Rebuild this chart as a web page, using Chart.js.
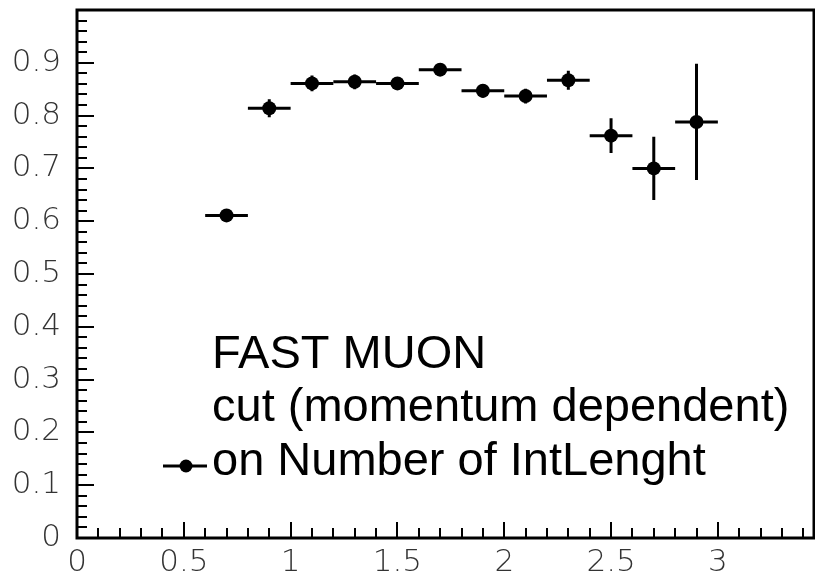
<!DOCTYPE html>
<html><head><meta charset="utf-8">
<script src="https://cdn.jsdelivr.net/npm/chart.js@4/dist/chart.umd.min.js"></script>
<style>html,body{margin:0;padding:0;background:#fff;}#wrap{width:815px;height:581px;}</style>
</head><body><div id="wrap"><canvas id="c" width="815" height="581"></canvas></div>
<script>
const binCenters    = [0.7, 0.9, 1.1, 1.3, 1.5, 1.7, 1.9, 2.1, 2.3, 2.5, 2.7, 2.9];
const binHalfWidths = [0.1, 0.1, 0.1, 0.1, 0.1, 0.1, 0.1, 0.1, 0.1, 0.1, 0.1, 0.1];
const efficiency    = [0.611, 0.814, 0.861, 0.864, 0.861, 0.887, 0.847, 0.837, 0.867, 0.762, 0.700, 0.788];
const efficiencyErr = [0.012, 0.017, 0.015, 0.014, 0.012, 0.012, 0.013, 0.014, 0.018, 0.033, 0.060, 0.110];
const xTickValues = [0, 0.5, 1, 1.5, 2, 2.5, 3];
const xTickLabels = ['0', '0.5', '1', '1.5', '2', '2.5', '3'];
const yTickValues = [0, 0.1, 0.2, 0.3, 0.4, 0.5, 0.6, 0.7, 0.8, 0.9];
const yTickLabels = ['0', '0.1', '0.2', '0.3', '0.4', '0.5', '0.6', '0.7', '0.8', '0.9'];
const legendLines = ['FAST MUON', 'cut (momentum dependent)', 'on Number of IntLenght'];

const points = binCenters.map((x, i) => ({x: x, y: efficiency[i]}));
const tickFont = {family: "'DejaVu Sans'", size: 31, weight: 200};

const rootStyle = {
  id: 'rootStyle',
  beforeDatasetsDraw(chart) {
    const ctx = chart.ctx, xs = chart.scales.x, ys = chart.scales.y;
    ctx.save();
    ctx.strokeStyle = '#000';
    ctx.lineWidth = 3;
    ctx.lineCap = 'butt';
    binCenters.forEach((x, i) => {
      const px = xs.getPixelForValue(x);
      const py = ys.getPixelForValue(efficiency[i]);
      ctx.beginPath();
      ctx.moveTo(xs.getPixelForValue(x - binHalfWidths[i]), py);
      ctx.lineTo(xs.getPixelForValue(x + binHalfWidths[i]), py);
      ctx.moveTo(px, ys.getPixelForValue(efficiency[i] - efficiencyErr[i]));
      ctx.lineTo(px, ys.getPixelForValue(efficiency[i] + efficiencyErr[i]));
      ctx.stroke();
    });
    ctx.restore();
  },
  afterDraw(chart) {
    const ctx = chart.ctx, a = chart.chartArea, xs = chart.scales.x, ys = chart.scales.y;
    ctx.save();
    ctx.strokeStyle = '#000';
    ctx.lineWidth = 3;
    ctx.strokeRect(a.left, a.top, a.right - a.left, a.bottom - a.top);
    ctx.lineWidth = 2;
    ctx.beginPath();
    for (let k = 0; k <= 34; k++) {
      const v = k / 10;
      const px = Math.round(xs.getPixelForValue(v));
      if (px <= a.left + 1 || px >= a.right - 1) continue;
      const len = (k % 5 === 0) ? 16 : 10;
      ctx.moveTo(px, a.bottom);
      ctx.lineTo(px, a.bottom - len);
    }
    for (let k = 0; k <= 50; k++) {
      const v = k / 50;
      const py = Math.round(ys.getPixelForValue(v));
      if (py >= a.bottom - 1 || py <= a.top + 1) continue;
      const len = (k % 5 === 0) ? 17 : 10;
      ctx.moveTo(a.left, py);
      ctx.lineTo(a.left + len, py);
    }
    ctx.stroke();

    const ly = 466;
    ctx.lineWidth = 3;
    ctx.beginPath();
    ctx.moveTo(163, ly);
    ctx.lineTo(207, ly);
    ctx.stroke();
    ctx.fillStyle = '#000';
    ctx.beginPath();
    ctx.arc(186, ly, 6.5, 0, Math.PI * 2);
    ctx.fill();

    ctx.font = "47px 'Liberation Sans', Arial, sans-serif";
    ctx.textAlign = 'left';
    ctx.textBaseline = 'alphabetic';
    const baselines = [368, 421, 475];
    legendLines.forEach((t, i) => ctx.fillText(t, 212, baselines[i]));
    ctx.restore();
  }
};

new Chart(document.getElementById('c'), {
  type: 'scatter',
  data: {
    datasets: [{
      label: legendLines.join(' '),
      data: points,
      backgroundColor: '#000',
      borderColor: '#000',
      pointRadius: 7,
      pointHoverRadius: 7,
      pointBorderWidth: 0
    }]
  },
  options: {
    responsive: false,
    animation: false,
    devicePixelRatio: 1,
    events: [],
    layout: {autoPadding: false, padding: {top: 10, right: 1, left: 0, bottom: 0}},
    plugins: {legend: {display: false}, tooltip: {enabled: false}, title: {display: false}},
    scales: {
      x: {
        type: 'linear', min: 0, max: 3.45,
        afterBuildTicks: s => { s.ticks = xTickValues.map(v => ({value: v})); },
        afterFit: s => { s.height = 43; s.paddingLeft = 0; s.paddingRight = 0; },
        grid: {display: false, drawTicks: false},
        border: {display: false},
        ticks: {
          autoSkip: false, maxRotation: 0, padding: 6, color: '#333', font: tickFont,
          callback: (v) => xTickLabels[xTickValues.indexOf(v)]
        }
      },
      y: {
        type: 'linear', min: 0, max: 1.0,
        afterBuildTicks: s => { s.ticks = yTickValues.map(v => ({value: v})); },
        afterFit: s => { s.width = 77; s.paddingTop = 0; s.paddingBottom = 0; },
        grid: {display: false, drawTicks: false},
        border: {display: false},
        ticks: {
          autoSkip: false, padding: 16, color: '#333', font: tickFont,
          callback: (v) => yTickLabels[yTickValues.indexOf(v)]
        }
      }
    }
  },
  plugins: [rootStyle]
});
</script>
</body></html>
